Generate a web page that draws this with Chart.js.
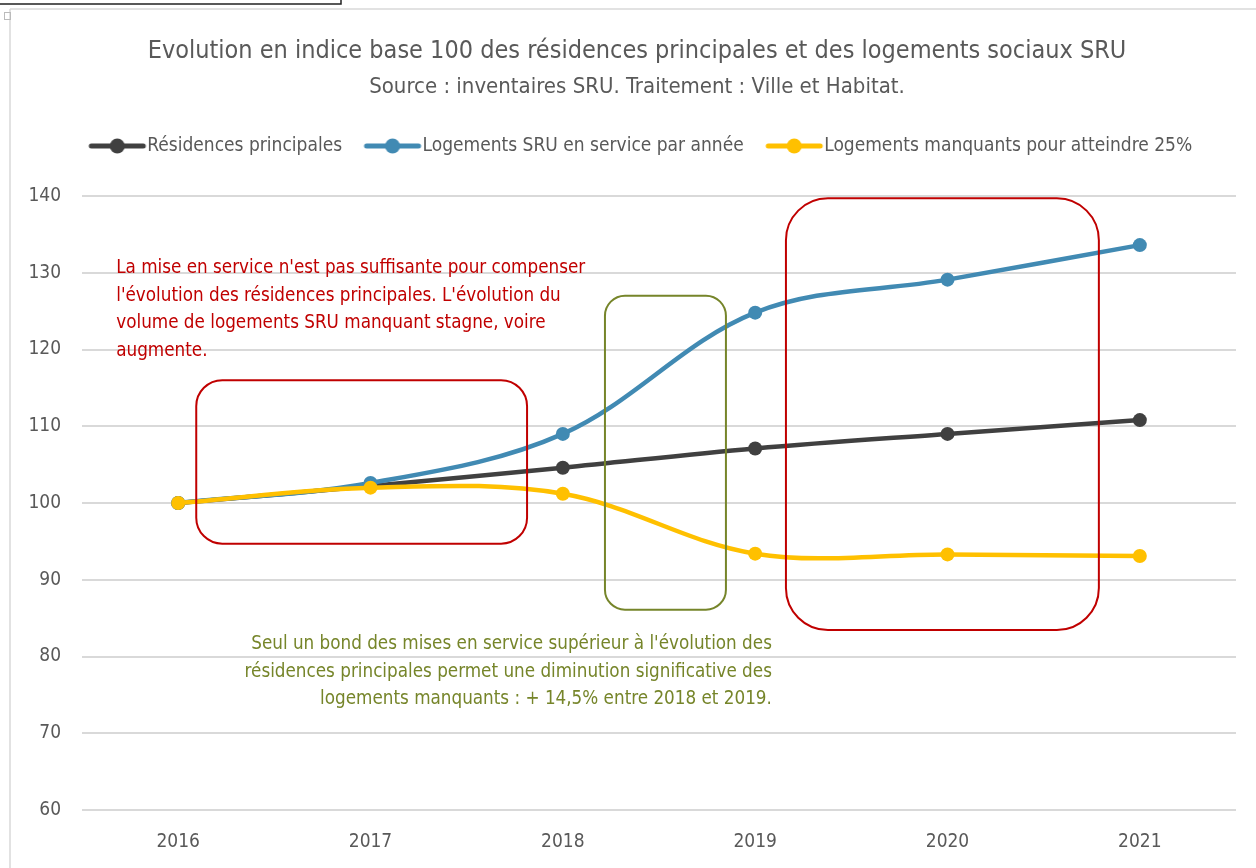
<!DOCTYPE html>
<html>
<head>
<meta charset="utf-8">
<script src="https://cdn.jsdelivr.net/npm/chart.js@4/dist/chart.umd.min.js"></script>
<style>
html,body{margin:0;padding:0;background:#fff;}
#wrap{position:absolute;left:0;top:0;width:1256px;height:868px;}
</style>
</head>
<body>
<div id="wrap"><canvas id="c" width="1256" height="868"></canvas></div>
<script>
const years = ['2016','2017','2018','2019','2020','2021'];
const residences = [100, 102.2, 104.6, 107.1, 109.0, 110.8];
const logementsSRU = [100, 102.6, 109.0, 124.8, 129.1, 133.6];
const manquants = [100, 102.0, 101.2, 93.4, 93.3, 93.1];
const seriesNames = ['Résidences principales', 'Logements SRU en service par année', 'Logements manquants pour atteindre 25%'];
const yTicks = [60, 70, 80, 90, 100, 110, 120, 130, 140];

const titleText = 'Evolution en indice base 100 des résidences principales et des logements sociaux SRU';
const subtitleText = 'Source : inventaires SRU. Traitement : Ville et Habitat.';
const noteRed = ["La mise en service n'est pas suffisante pour compenser",
  "l'évolution des résidences principales. L'évolution du",
  "volume de logements SRU manquant stagne, voire",
  "augmente."];
const noteOlive = ["Seul un bond des mises en service supérieur à l'évolution des",
  "résidences principales permet une diminution significative des",
  "logements manquants : + 14,5% entre 2018 et 2019."];

const FONT = "'Liberation Sans Narrow','Arial Narrow','DejaVu Sans Condensed',sans-serif";
const colors = ['#404040', '#418AB3', '#FFC000'];
const RED = '#C00000', OLIVE = '#76852A';
const LEGEND_FS = 19, LEGEND_PW = 48;

function legendImg(color) {
  const W = LEGEND_PW + LEGEND_FS, H = 18;
  const cv = document.createElement('canvas');
  cv.width = W; cv.height = H;
  const g = cv.getContext('2d');
  g.strokeStyle = color; g.lineWidth = 5; g.lineCap = 'round';
  g.beginPath(); g.moveTo(W - 56, H / 2); g.lineTo(W - 4, H / 2); g.stroke();
  g.fillStyle = color;
  g.beginPath(); g.arc(W - 30, H / 2, 7.5, 0, Math.PI * 2); g.fill();
  return cv;
}

const frame = {
  id: 'frame',
  beforeDraw(chart) {
    const g = chart.ctx;
    g.save();
    g.fillStyle = '#fff'; g.fillRect(0, 0, chart.width, chart.height);
    g.strokeStyle = '#D9D9D9'; g.lineWidth = 1.5;
    g.beginPath(); g.moveTo(10, 9); g.lineTo(1256, 9); g.stroke();
    g.beginPath(); g.moveTo(10, 9); g.lineTo(10, 868); g.stroke();
    g.strokeStyle = '#222'; g.lineWidth = 1.5;
    g.beginPath(); g.moveTo(0, 4); g.lineTo(341, 4); g.lineTo(341, 0); g.stroke();
    g.strokeStyle = '#BBB'; g.lineWidth = 1;
    g.strokeRect(4.5, 12.5, 6, 7);
    g.restore();
  }
};

function rrect(g, x0, y0, x1, y1, r) {
  g.beginPath();
  g.moveTo(x0 + r, y0);
  g.lineTo(x1 - r, y0); g.arcTo(x1, y0, x1, y0 + r, r);
  g.lineTo(x1, y1 - r); g.arcTo(x1, y1, x1 - r, y1, r);
  g.lineTo(x0 + r, y1); g.arcTo(x0, y1, x0, y1 - r, r);
  g.lineTo(x0, y0 + r); g.arcTo(x0, y0, x0 + r, y0, r);
  g.closePath();
}

// annotation boxes in scale units: [xIndexFrom, xIndexTo, yValTop, yValBottom]
const boxRed1 = [0.094, 1.814, 116.0, 94.7];
const boxOlive = [2.219, 2.848, 127.0, 86.1];
const boxRed2 = [3.160, 4.787, 139.7, 83.45];

const notes = {
  id: 'notes',
  afterDatasetsDraw(chart) {
    const g = chart.ctx, xs = chart.scales.x, ys = chart.scales.y;
    const X = v => xs.getPixelForValue(v), Y = v => ys.getPixelForValue(v);
    g.save();
    g.lineWidth = 2;
    g.strokeStyle = RED;
    rrect(g, X(boxRed1[0]), Y(boxRed1[2]), X(boxRed1[1]), Y(boxRed1[3]), 26); g.stroke();
    rrect(g, X(boxRed2[0]), Y(boxRed2[2]), X(boxRed2[1]), Y(boxRed2[3]), 42); g.stroke();
    g.strokeStyle = OLIVE;
    rrect(g, X(boxOlive[0]), Y(boxOlive[2]), X(boxOlive[1]), Y(boxOlive[3]), 20); g.stroke();
    g.font = '18.7px ' + FONT;
    g.textBaseline = 'middle';
    g.fillStyle = RED; g.textAlign = 'left';
    const rx = X(-0.322), ry = Y(130.6);
    noteRed.forEach((t, i) => g.fillText(t, rx, ry + i * 27.7));
    g.fillStyle = OLIVE; g.textAlign = 'right';
    const ox = X(3.087), oy = Y(81.6);
    noteOlive.forEach((t, i) => g.fillText(t, ox, oy + i * 27.7));
    g.restore();
  }
};

function shiftDraw(box, dx) {
  const d = box.draw.bind(box);
  box.draw = function () {
    const g = this.ctx; g.save(); g.translate(dx, 0); d(); g.restore();
  };
}

const headerTweak = {
  id: 'headerTweak',
  afterInit(chart) {
    const lg = chart.legend;
    if (lg && !lg._patched) {
      const f = lg.fit.bind(lg);
      lg.fit = function () { f(); this.height += 30.5; };
      shiftDraw(lg, 18);
      lg._patched = true;
    }
    (chart.boxes || []).forEach(b => {
      if (b !== lg && b.options && typeof b.options.text === 'string' && !b._patched) {
        shiftDraw(b, 14);
        b._patched = true;
      }
    });
  }
};

const ds = [residences, logementsSRU, manquants].map((d, i) => ({
  label: seriesNames[i],
  data: d,
  borderColor: colors[i],
  backgroundColor: colors[i],
  borderWidth: 4.5,
  pointRadius: 7,
  pointHoverRadius: 7,
  pointBorderWidth: 0,
  pointStyle: 'circle',
  tension: 0.35,
  fill: false,
  order: 3 - i
}));
const legendImgs = colors.map(legendImg);

new Chart(document.getElementById('c'), {
  type: 'line',
  data: { labels: years, datasets: ds },
  options: {
    responsive: false,
    animation: false,
    events: [],
    layout: { padding: { left: 10, top: 10, right: 20, bottom: 0 } },
    plugins: {
      title: {
        display: true, text: titleText, color: '#595959',
        font: { family: FONT, size: 25, weight: 'normal' },
        padding: { top: 26.5, bottom: 0 }
      },
      subtitle: {
        display: true, text: subtitleText, color: '#595959',
        font: { family: FONT, size: 22, weight: 'normal' },
        padding: { top: 7.8, bottom: 12.8 }
      },
      legend: {
        display: true,
        labels: {
          color: '#595959',
          font: { family: FONT, size: LEGEND_FS },
          usePointStyle: true,
          pointStyleWidth: LEGEND_PW,
          padding: 23,
          generateLabels(chart) {
            return chart.data.datasets.map((d, i) => ({
              text: d.label, fillStyle: d.borderColor, strokeStyle: d.borderColor,
              lineWidth: 0, pointStyle: legendImgs[i], hidden: false, datasetIndex: i,
              fontColor: '#595959'
            }));
          }
        }
      },
      tooltip: { enabled: false }
    },
    scales: {
      x: {
        offset: true,
        grid: { display: false, drawTicks: false },
        border: { display: false },
        afterFit(s) { s.height = 58; },
        ticks: { color: '#595959', font: { family: FONT, size: 19 }, padding: 21 }
      },
      y: {
        min: 60, max: 140,
        afterBuildTicks(s) { s.ticks = yTicks.map(v => ({ value: v })); },
        afterFit(s) { s.width = 72; },
        grid: { color: '#D9D9D9', lineWidth: 2, drawTicks: false },
        border: { display: false },
        ticks: { color: '#595959', font: { family: FONT, size: 19 }, padding: 21 }
      }
    }
  },
  plugins: [frame, notes, headerTweak]
});
</script>
</body>
</html>
